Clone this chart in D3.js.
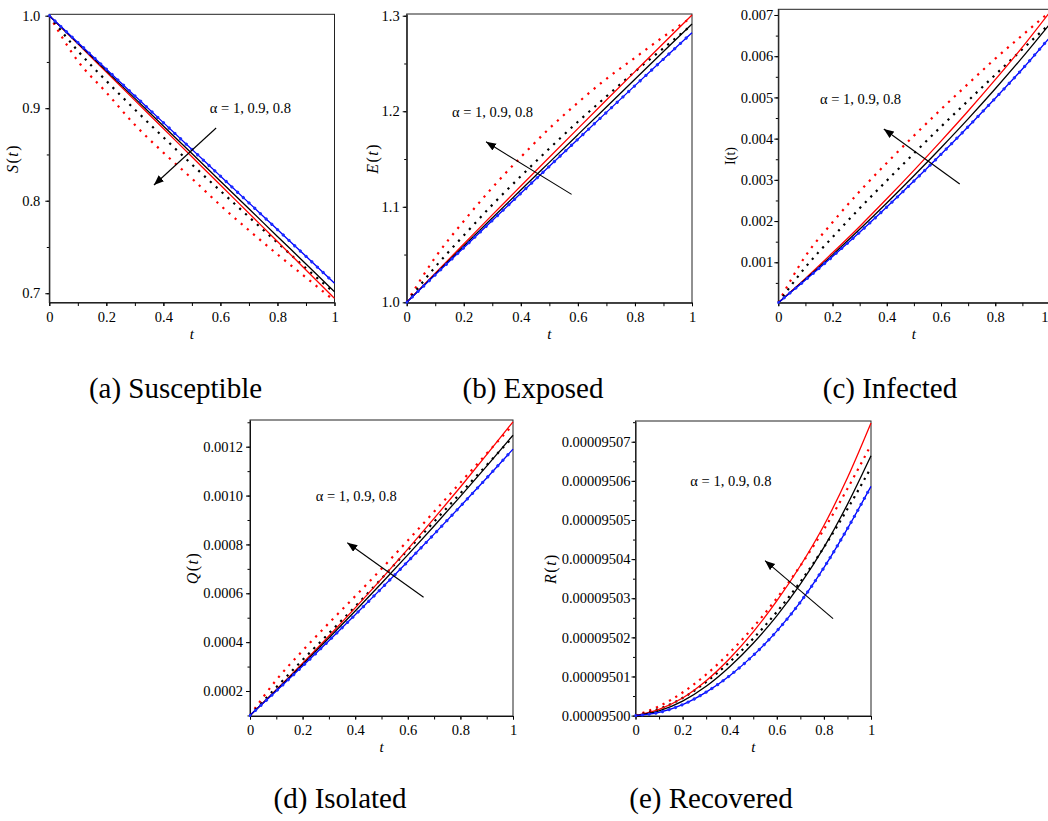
<!DOCTYPE html>
<html>
<head>
<meta charset="utf-8">
<script src="https://cdn.jsdelivr.net/npm/d3@7"></script>
<style>
  body { margin: 0; background: #fff; }
  svg { display: block; font-family: "Liberation Serif", "Times New Roman", serif; }
</style>
</head>
<body>
<svg id="chart" width="1048" height="821"></svg>
<script>
// time grid shared by all panels
const tValues = [0, 0.1, 0.2, 0.3, 0.4, 0.5, 0.6, 0.7, 0.8, 0.9, 1];
const tTicks = [0, 0.2, 0.4, 0.6, 0.8, 1];
const tTickLabels = ["0", "0.2", "0.4", "0.6", "0.8", "1"];
const alphaText = "α = 1, 0.9, 0.8";

// (a) Susceptible  -- solid: blue α=1, black α=0.9, red α=0.8 ; dotted: black α=0.9, red α=0.8
const sBlue = [1.0, 0.9711, 0.9422, 0.9133, 0.8844, 0.8555, 0.8266, 0.7977, 0.7688, 0.7399, 0.7108];
const sBlack = [1.0, 0.9702, 0.9404, 0.9106, 0.8808, 0.8510, 0.8211, 0.7913, 0.7614, 0.7316, 0.7017];
const sRed = [1.0, 0.9695, 0.9390, 0.9085, 0.8780, 0.8475, 0.8170, 0.7865, 0.7560, 0.7252, 0.6945];
const sBlackDot = [1.0, 0.9620, 0.9295, 0.8986, 0.8686, 0.8392, 0.8107, 0.7825, 0.7546, 0.7270, 0.7005];
const sRedDot = [1.0, 0.951, 0.917, 0.882, 0.852, 0.824, 0.795, 0.768, 0.742, 0.717, 0.6918];
const sTicks = [0.7, 0.8, 0.9, 1.0];
const sTickLabels = ["0.7", "0.8", "0.9", "1.0"];

// (b) Exposed
const eBlue = [1.0, 1.0287, 1.0572, 1.0857, 1.1141, 1.1424, 1.1707, 1.1988, 1.2268, 1.2546, 1.2822];
const eBlack = [1.0, 1.0295, 1.0590, 1.0883, 1.1175, 1.1465, 1.1755, 1.2045, 1.2335, 1.2625, 1.2913];
const eRed = [1.0, 1.0305, 1.0610, 1.0915, 1.1217, 1.1518, 1.1818, 1.2117, 1.2415, 1.2712, 1.3007];
const eBlackDot = [1.0, 1.037, 1.070, 1.102, 1.132, 1.161, 1.189, 1.2155, 1.2415, 1.266, 1.2905];
const eRedDot = [1.0, 1.047, 1.085, 1.120, 1.152, 1.182, 1.209, 1.234, 1.256, 1.278, 1.2985];
const eTicks = [1.0, 1.1, 1.2, 1.3];
const eTickLabels = ["1.0", "1.1", "1.2", "1.3"];

// (c) Infected
const iBlue = [0.00002, 0.00057, 0.00114, 0.00173, 0.00234, 0.00297, 0.00362, 0.00429, 0.00498, 0.00569, 0.00645];
const iBlack = [0.00002, 0.00059, 0.00118, 0.00180, 0.00244, 0.00310, 0.00378, 0.00448, 0.00521, 0.00597, 0.00677];
const iRed = [0.00002, 0.00061, 0.00123, 0.00187, 0.00254, 0.00323, 0.00394, 0.00467, 0.00543, 0.00622, 0.00706];
const iBlackDot = [0.00002, 0.00088, 0.00161, 0.00231, 0.00298, 0.00364, 0.00429, 0.00492, 0.00555, 0.00617, 0.00678];
const iRedDot = [0.00002, 0.00115, 0.00197, 0.00272, 0.00341, 0.00407, 0.00471, 0.00533, 0.00594, 0.00651, 0.00707];
const iTicks = [0.001, 0.002, 0.003, 0.004, 0.005, 0.006, 0.007];
const iTickLabels = ["0.001", "0.002", "0.003", "0.004", "0.005", "0.006", "0.007"];

// (d) Isolated
const qBlue = [0.0001, 0.0002, 0.000302, 0.000406, 0.000512, 0.00062, 0.00073, 0.000842, 0.000956, 0.001072, 0.00119];
const qBlack = [0.0001, 0.000203, 0.0003086, 0.0004168, 0.0005276, 0.000641, 0.000757, 0.0008756, 0.0009968, 0.0011206, 0.001247];
const qRed = [0.0001, 0.000205, 0.0003134, 0.0004252, 0.0005404, 0.000659, 0.000781, 0.0009064, 0.0010352, 0.0011674, 0.001302];
const qBlackDot = [0.0001, 0.000215, 0.000327, 0.000436, 0.000546, 0.00066, 0.000777, 0.000893, 0.001009, 0.001125, 0.00124];
const qRedDot = [0.0001, 0.000245, 0.000365, 0.000478, 0.000588, 0.0007, 0.000816, 0.000934, 0.001053, 0.001172, 0.00129];
const qTicks = [0.0002, 0.0004, 0.0006, 0.0008, 0.0010, 0.0012];
const qTickLabels = ["0.0002", "0.0004", "0.0006", "0.0008", "0.0010", "0.0012"];

// (e) Recovered
const rBlue = [0.000095, 0.0000950008, 0.0000950028, 0.000095006, 0.0000950102, 0.0000950154, 0.0000950216, 0.000095029, 0.0000950378, 0.0000950478, 0.0000950586];
const rBlack = [0.000095, 0.0000950012, 0.0000950037, 0.0000950075, 0.0000950125, 0.0000950185, 0.0000950255, 0.0000950336, 0.000095043, 0.000095054, 0.0000950664];
const rRed = [0.000095, 0.0000950016, 0.0000950045, 0.0000950089, 0.0000950146, 0.0000950214, 0.0000950293, 0.0000950383, 0.0000950486, 0.0000950608, 0.0000950748];
const rBlackDot = [0.000095, 0.0000950017, 0.0000950045, 0.0000950086, 0.0000950137, 0.0000950197, 0.0000950265, 0.0000950342, 0.000095043, 0.0000950528, 0.0000950634];
const rRedDot = [0.000095, 0.0000950024, 0.0000950059, 0.0000950105, 0.0000950161, 0.0000950226, 0.00009503, 0.0000950383, 0.0000950476, 0.000095058, 0.0000950692];
const rTicks = [0.000095, 0.00009501, 0.00009502, 0.00009503, 0.00009504, 0.00009505, 0.00009506, 0.00009507];
const rTickLabels = ["0.00009500", "0.00009501", "0.00009502", "0.00009503", "0.00009504", "0.00009505", "0.00009506", "0.00009507"];

// layout of each sub-plot (pixel boxes)
const panels = [
  { box: [49.3, 334.5, 14.3, 302.5], yDomain: [0.690, 1.0015], yTicks: sTicks, yTickLabels: sTickLabels, minorStep: 0.05, pad: 5,
    yLabel: [["S", true], ["(", false], ["t", true], [")", false]], yLabelX: 12.5,
    data: { blue: sBlue, black: sBlack, red: sRed, blackDot: sBlackDot, redDot: sRedDot },
    note: [0.563, 0.8948], arrow: [[0.585, 0.8786], [0.367, 0.817]],
    caption: "(a) Susceptible", capX: 175.5, capY: 398 },
  { box: [406.7, 692, 14, 302.7], yDomain: [0.9996, 1.3018], yTicks: eTicks, yTickLabels: eTickLabels, minorStep: 0.05, pad: 3,
    yLabel: [["E", true], ["(", false], ["t", true], [")", false]], yLabelX: 372.5,
    data: { blue: eBlue, black: eBlack, red: eRed, blackDot: eBlackDot, redDot: eRedDot },
    note: [0.159, 1.194], arrow: [[0.578, 1.113], [0.278, 1.168]],
    caption: "(b) Exposed", capX: 533, capY: 398 },
  { box: [778.3, 1049.5, 9.3, 302.7], yDomain: [0.0000194, 0.007138], yTicks: iTicks, yTickLabels: iTickLabels, minorStep: 0.0005, pad: 1,
    yLabel: [["I(t)", false]], yLabelX: 730,
    data: { blue: iBlue, black: iBlack, red: iRed, blackDot: iBlackDot, redDot: iRedDot },
    note: [0.154, 0.004835], arrow: [[0.669, 0.0029], [0.389, 0.004235]],
    caption: "(c) Infected", capX: 890, capY: 398 },
  { box: [250, 513, 420, 716], yDomain: [0.0000977, 0.0013093], yTicks: qTicks, yTickLabels: qTickLabels, minorStep: 0.0001, pad: 3,
    yLabel: [["Q", true], ["(", false], ["t", true], [")", false]], yLabelX: 192,
    data: { blue: qBlue, black: qBlack, red: qRed, blackDot: qBlackDot, redDot: qRedDot },
    note: [0.25, 0.000979], arrow: [[0.66, 0.0005835], [0.37, 0.000807]],
    caption: "(d) Isolated", capX: 340, capY: 808 },
  { box: [635.5, 871, 421, 716], yDomain: [0.0000949999, 0.0000950753], yTicks: rTicks, yTickLabels: rTickLabels, minorStep: 0.000000005, pad: 1,
    yLabel: [["R", true], ["(", false], ["t", true], [")", false]], yLabelX: 550,
    data: { blue: rBlue, black: rBlack, red: rRed, blackDot: rBlackDot, redDot: rRedDot },
    note: [0.233, 0.0000950586], arrow: [[0.839, 0.00009502478], [0.55, 0.0000950396]],
    caption: "(e) Recovered", capX: 711, capY: 808 }
];

const W = 1048, H = 821;
const svg = d3.select("#chart");
svg.append("rect").attr("width", W).attr("height", H).attr("fill", "#fff");

// arrow head
svg.append("defs").append("marker")
  .attr("id", "head")
  .attr("markerUnits", "userSpaceOnUse")
  .attr("markerWidth", 11).attr("markerHeight", 9)
  .attr("refX", 10).attr("refY", 4)
  .attr("orient", "auto")
  .append("path")
  .attr("d", "M0,0 L10,4 L0,8 Z")
  .attr("fill", "#000");

const drawPanel = (p, idx) => {
  const [left, right, top, bottom] = p.box;
  const x = d3.scaleLinear().domain([0, 1]).range([left, right]);
  const y = d3.scaleLinear().domain(p.yDomain).range([bottom, top]);
  const g = svg.append("g");

  const clipId = "clip" + idx;
  g.append("clipPath").attr("id", clipId)
    .append("rect")
    .attr("x", left - 1).attr("y", top - 1)
    .attr("width", right - left + 2).attr("height", bottom - top + 2);

  // minor y ticks every half interval
  const [y0, y1] = p.yDomain;
  const minorVals = [];
  for (let k = Math.ceil(y0 / p.minorStep - 1e-6); k * p.minorStep <= y1 + 1e-15; k++) {
    minorVals.push(k * p.minorStep);
  }

  g.append("g")
    .attr("transform", `translate(${left},0)`)
    .call(d3.axisLeft(y).tickValues(minorVals).tickFormat("").tickSize(2.5).tickSizeOuter(0))
    .call(a => a.select(".domain").remove());

  g.append("g")
    .attr("transform", `translate(0,${bottom})`)
    .call(d3.axisBottom(x).tickValues(d3.range(0, 1.0001, 0.1)).tickFormat("").tickSize(3.5).tickSizeOuter(0))
    .call(a => a.select(".domain").remove());

  const yAxis = g.append("g")
    .attr("transform", `translate(${left},0)`)
    .call(d3.axisLeft(y).tickValues(p.yTicks).tickFormat((d, i) => p.yTickLabels[i])
      .tickSize(4).tickPadding(p.pad).tickSizeOuter(0));
  yAxis.attr("font-family", null).attr("font-size", 14.5);
  yAxis.selectAll("text").attr("fill", "#000");

  const xAxis = g.append("g")
    .attr("transform", `translate(0,${bottom})`)
    .call(d3.axisBottom(x).tickValues(tTicks).tickFormat((d, i) => tTickLabels[i])
      .tickSize(3.5).tickPadding(5.5).tickSizeOuter(0));
  xAxis.attr("font-family", null).attr("font-size", 14.5);
  xAxis.selectAll("text").attr("fill", "#000");
  // a label that runs past the page edge is pulled back inside it
  xAxis.selectAll(".tick").each(function (d) {
    if (x(d) + 4 > W) {
      d3.select(this).select("text").attr("text-anchor", "end").attr("x", W - x(d));
    }
  });

  // frame
  g.append("rect")
    .attr("x", left).attr("y", top)
    .attr("width", right - left).attr("height", bottom - top)
    .attr("fill", "none").attr("stroke", "#222").attr("stroke-width", 1);

  const line = d3.line()
    .x((d, i) => x(tValues[i]))
    .y(d => y(d))
    .curve(d3.curveMonotoneX);

  const plot = g.append("g").attr("clip-path", `url(#${clipId})`);

  const dotted = (values, color, size, count, cap) => {
    const path = plot.append("path")
      .datum(values)
      .attr("d", line)
      .attr("fill", "none")
      .attr("stroke", color)
      .attr("stroke-width", size)
      .attr("stroke-linecap", cap);
    const len = path.node().getTotalLength();
    const step = len / count;
    const dash = cap === "round" ? 0.01 : size;
    path.attr("stroke-dasharray", `${dash} ${step - dash}`);
  };

  const solid = (values, color) => {
    plot.append("path")
      .datum(values)
      .attr("d", line)
      .attr("fill", "none")
      .attr("stroke", color)
      .attr("stroke-width", 1.3);
  };

  dotted(p.data.redDot, "#ff0000", 2.2, 50, "butt");
  dotted(p.data.blackDot, "#000", 2.2, 50, "butt");
  solid(p.data.red, "#ff0000");
  solid(p.data.black, "#000");
  solid(p.data.blue, "#0000ff");
  dotted(p.data.blue, "#1a2cff", 3.2, 50, "round");

  // alpha note and arrow
  g.append("text")
    .attr("x", x(p.note[0])).attr("y", y(p.note[1]))
    .attr("font-size", 14.5)
    .attr("fill", "#000")
    .text(alphaText);

  g.append("line")
    .attr("x1", x(p.arrow[0][0])).attr("y1", y(p.arrow[0][1]))
    .attr("x2", x(p.arrow[1][0])).attr("y2", y(p.arrow[1][1]))
    .attr("stroke", "#000").attr("stroke-width", 1.1)
    .attr("marker-end", "url(#head)");

  // axis titles
  const mathStyle = p.yLabel.length > 1;
  const yl = g.append("text")
    .attr("transform", `translate(${p.yLabelX},${(top + bottom) / 2}) rotate(-90)`)
    .attr("text-anchor", "middle")
    .attr("dy", "0.35em")
    .attr("font-size", mathStyle ? 16 : 14)
    .attr("letter-spacing", mathStyle ? 1.5 : 0)
    .attr("fill", "#000");
  p.yLabel.forEach(([s, it]) => {
    yl.append("tspan").attr("font-style", it ? "italic" : "normal").text(s);
  });

  g.append("text")
    .attr("x", (left + right) / 2).attr("y", bottom + 31)
    .attr("text-anchor", "middle")
    .attr("dy", "0.35em")
    .attr("font-size", 15)
    .attr("font-style", "italic")
    .attr("fill", "#000")
    .text("t");

  // caption
  svg.append("text")
    .attr("x", p.capX).attr("y", p.capY)
    .attr("text-anchor", "middle")
    .attr("font-size", 29)
    .attr("fill", "#000")
    .text(p.caption);
};

panels.forEach(drawPanel);
</script>
</body>
</html>
